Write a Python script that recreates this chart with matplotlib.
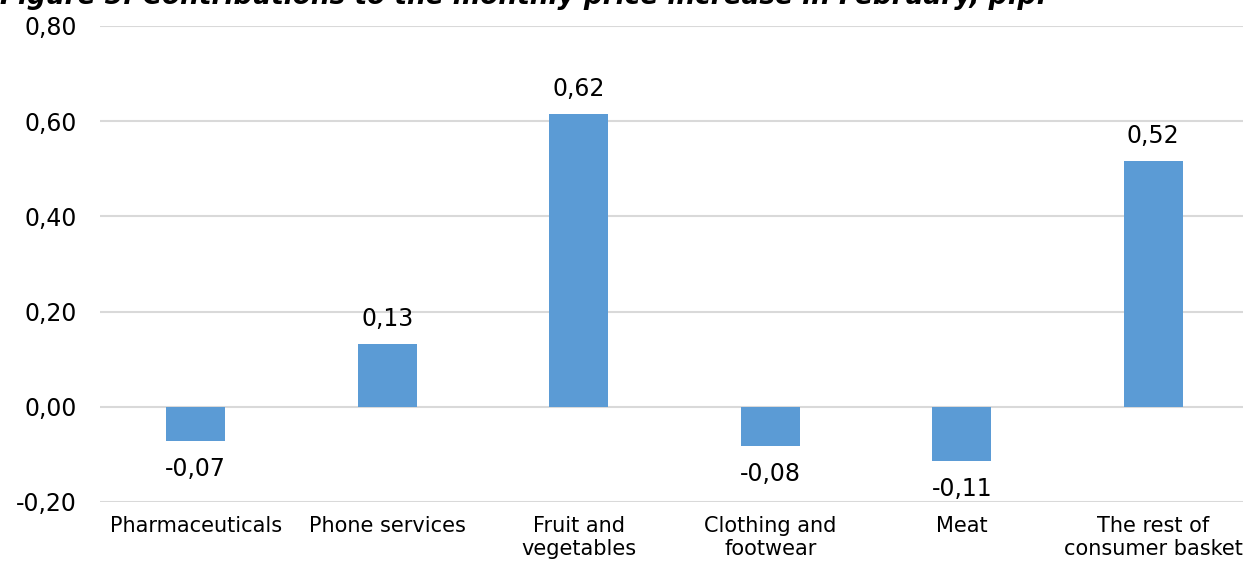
import matplotlib
matplotlib.use("Agg")
import matplotlib.pyplot as plt
from matplotlib.ticker import FuncFormatter

categories = ["Pharmaceuticals", "Phone services", "Fruit and\nvegetables",
              "Clothing and\nfootwear", "Meat", "The rest of\nconsumer basket"]
values = [-0.071, 0.132, 0.616, -0.082, -0.113, 0.517]
yticks = [-0.20, 0.00, 0.20, 0.40, 0.60, 0.80]
title = "Figure 5: Contributions to the monthly price increase in February, p.p."

plt.rcParams['font.family'] = ['DejaVu Sans']
fig = plt.figure(figsize=(12.43, 5.66), dpi=100)
ax = fig.add_axes([100/1243, 1-502/566, 1149/1243, (502-26)/566])

x = list(range(len(categories)))
ax.bar(x, values, width=0.31, color="#5b9bd5", zorder=3)
ax.set_xlim(-0.5, len(categories) - 0.5)
ax.set_ylim(-0.2, 0.8)
ax.set_yticks(yticks)
ax.yaxis.set_major_formatter(FuncFormatter(lambda v, p: f"{v:.2f}".replace(".", ",")))
ax.set_xticks(x)
ax.set_xticklabels(categories, fontsize=15)
ax.tick_params(axis='y', labelsize=17, length=0, pad=16.5)
ax.tick_params(axis='x', length=0, pad=10)
ax.grid(axis='y', color="#d9d9d9", linewidth=1.5, zorder=0)
for s in ax.spines.values():
    s.set_visible(False)

for xi, v in zip(x, values):
    lab = f"{v:.2f}".replace(".", ",")
    off = 25 if v >= 0 else -28
    ax.annotate(lab, (xi, v), xytext=(0, off), textcoords="offset pixels",
                ha="center", va="center", fontsize=17)

fig.text(0, 1 - 4/566, title, fontsize=19, fontweight="bold", fontstyle="italic",
         ha="left", va="baseline")

fig.savefig("out.png", dpi=100)
